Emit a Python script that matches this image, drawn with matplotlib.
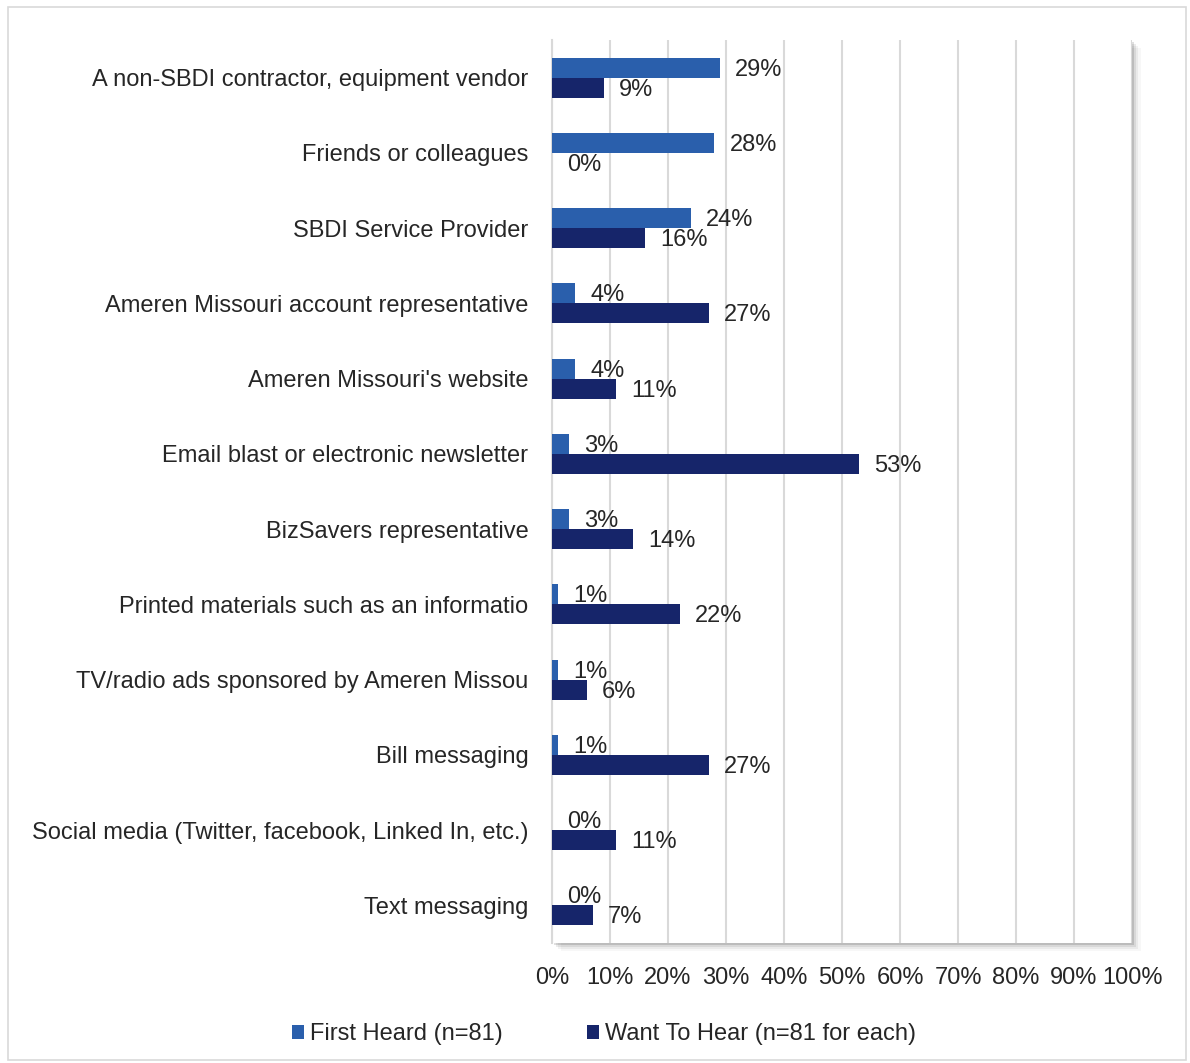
import matplotlib.pyplot as plt
from matplotlib.patches import Rectangle
import numpy as np

categories = [
    "A non-SBDI contractor, equipment vendor",
    "Friends or colleagues",
    "SBDI Service Provider",
    "Ameren Missouri account representative",
    "Ameren Missouri's website",
    "Email blast or electronic newsletter",
    "BizSavers representative",
    "Printed materials such as an informatio",
    "TV/radio ads sponsored by Ameren Missou",
    "Bill messaging",
    "Social media (Twitter, facebook, Linked In, etc.)",
    "Text messaging",
]
first_heard = [29, 28, 24, 4, 4, 3, 3, 1, 1, 1, 0, 0]
want_to_hear = [9, 0, 16, 27, 11, 53, 14, 22, 6, 27, 11, 7]
series_names = ["First Heard (n=81)", "Want To Hear (n=81 for each)"]
ticks = list(range(0, 101, 10))

plt.rcParams['font.family'] = ['Liberation Sans', 'DejaVu Sans']
fs = 17
txt = '#262626'

fig = plt.figure(figsize=(11.9, 10.63), dpi=100)
pos = [0.4639, 0.1129, 0.4874, 0.8495]
ax = fig.add_axes(pos, zorder=2)
ax.set_facecolor('white')

# outer frame and soft shadow behind the plot area
fig.patches.append(Rectangle((0.007, 0.003), 0.99, 0.99, transform=fig.transFigure,
                             fill=False, edgecolor='#D9D9D9', lw=1.2, zorder=-2))
for i, a in enumerate([0.12, 0.08, 0.05, 0.03]):
    off = 0.0018 * (i + 1)
    fig.patches.append(Rectangle((pos[0] + off, pos[1] - off * 1.1), pos[2], pos[3],
                                 transform=fig.transFigure, facecolor='black',
                                 alpha=a, edgecolor='none', zorder=-1))

y = np.arange(len(categories))
h = 0.265
c1, c2 = '#2A5FAC', '#16256A'
ax.barh(y - h / 2, first_heard, height=h, color=c1, label=series_names[0], zorder=3)
ax.barh(y + h / 2, want_to_hear, height=h, color=c2, label=series_names[1], zorder=3)

# value labels just past the end of each bar
for yi, v in zip(y - h / 2, first_heard):
    ax.annotate(f"{v}%", (v, yi), xytext=(15, -2), textcoords='offset pixels',
                va='center', ha='left', fontsize=fs, color=txt, zorder=4)
for yi, v in zip(y + h / 2, want_to_hear):
    ax.annotate(f"{v}%", (v, yi), xytext=(15, -2), textcoords='offset pixels',
                va='center', ha='left', fontsize=fs, color=txt, zorder=4)

ax.set_xlim(0, 100)
ax.set_ylim(len(categories) - 0.5, -0.5)
ax.set_xticks(ticks)
ax.set_xticklabels([f"{t}%" for t in ticks], fontsize=fs, color=txt)
ax.set_yticks(y)
ax.set_yticklabels(categories, fontsize=fs, color=txt)
ax.tick_params(length=0)
ax.tick_params(axis='y', pad=17)
ax.tick_params(axis='x', pad=17)
ax.grid(axis='x', color='#D9D9D9', lw=1.5, zorder=0)
ax.set_axisbelow(True)
for s in ['top', 'right', 'bottom']:
    ax.spines[s].set_visible(False)
ax.spines['left'].set_color('#D9D9D9')
ax.spines['left'].set_linewidth(1.5)

leg = fig.legend(loc='center', bbox_to_anchor=(0.5075, 0.027), ncol=2, frameon=False,
                 fontsize=fs, handlelength=0.5, handleheight=0.5, handletextpad=0.25,
                 columnspacing=3.6)
for t in leg.get_texts():
    t.set_color(txt)

fig.savefig('out.png', dpi=100)
